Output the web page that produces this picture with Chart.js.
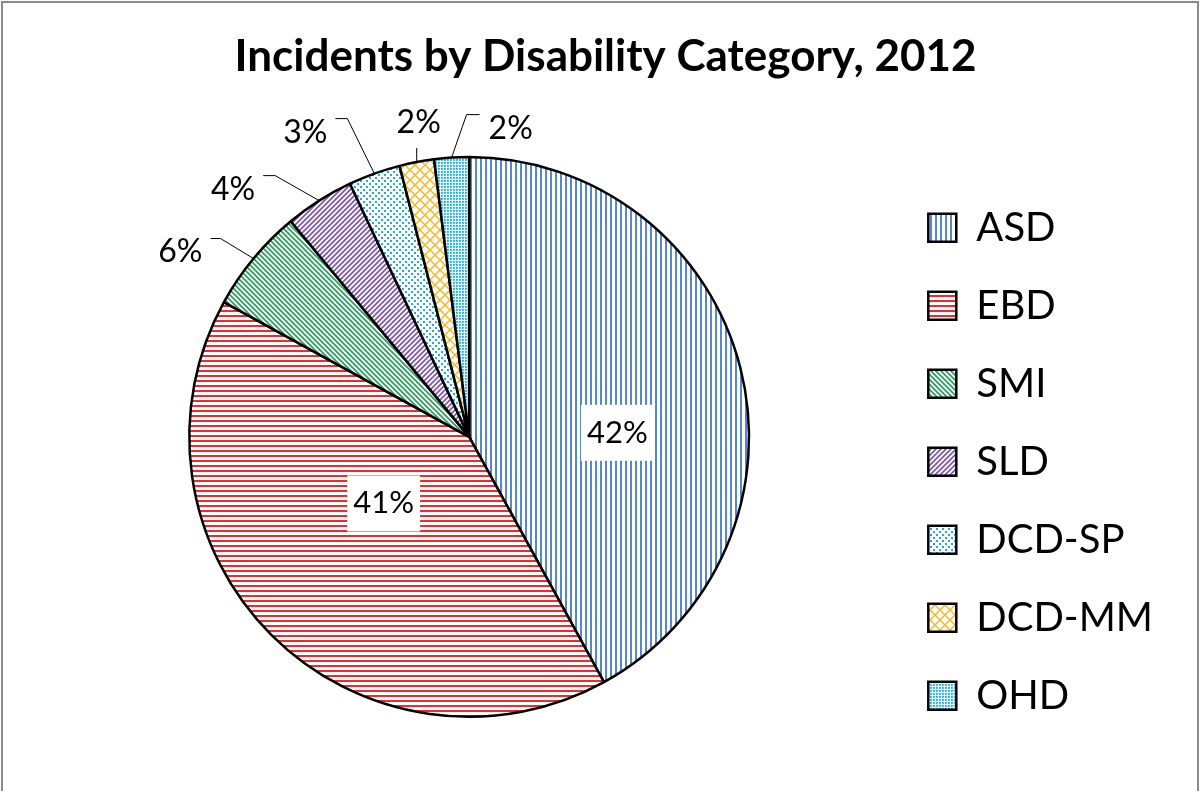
<!DOCTYPE html>
<html>
<head>
<meta charset="utf-8">
<script src="https://cdn.jsdelivr.net/npm/chart.js@4.4.0/dist/chart.umd.min.js"></script>
<style>
  html, body { margin: 0; padding: 0; background: #fff; }
  #wrap { position: absolute; left: 0; top: 0; width: 1200px; height: 791px; }
  #frame { position: absolute; left: 1px; top: 1px; width: 1194px; height: 800px;
           border: 2px solid #8c8c8c; pointer-events: none; }
</style>
</head>
<body>
<div id="wrap"><canvas id="pieChart"></canvas></div>
<div id="frame"></div>
<script>
const categories = ['ASD', 'EBD', 'SMI', 'SLD', 'DCD-SP', 'DCD-MM', 'OHD'];
const incidentShare = [42, 41, 6, 4, 3, 2, 2];
const shareLabels = ['42%', '41%', '6%', '4%', '3%', '2%', '2%'];

// small tiles used as fills, like the Excel pattern fills
function makePattern(kind, color) {
  const c = document.createElement('canvas');
  const s = { vlines: 5, hlines: 5, back: 5, fwd: 5, sparse: 6, grid: 10, dense: 3 }[kind];
  c.width = s; c.height = s;
  const g = c.getContext('2d');
  g.fillStyle = kind === 'dense' ? '#e2f5fd' : '#fff';
  g.fillRect(0, 0, s, s);
  g.strokeStyle = color;
  g.fillStyle = color;
  g.lineWidth = 1.8;
  if (kind === 'vlines') { g.fillRect(0, 0, 2, s); }
  if (kind === 'hlines') { g.fillRect(0, 0, s, 2); }
  if (kind === 'back') {
    g.beginPath();
    g.moveTo(-1, -1); g.lineTo(s + 1, s + 1);
    g.moveTo(-1, s - 1); g.lineTo(1, s + 1);
    g.moveTo(s - 1, -1); g.lineTo(s + 1, 1);
    g.stroke();
  }
  if (kind === 'fwd') {
    g.beginPath();
    g.moveTo(-1, s + 1); g.lineTo(s + 1, -1);
    g.moveTo(-1, 1); g.lineTo(1, -1);
    g.moveTo(s - 1, s + 1); g.lineTo(s + 1, s - 1);
    g.stroke();
  }
  if (kind === 'sparse') {
    g.fillRect(0, 0, 2, 2);
    g.fillRect(3, 3, 2, 2);
  }
  if (kind === 'grid') {
    g.lineWidth = 1.5;
    g.beginPath();
    g.moveTo(0, 0); g.lineTo(s, s);
    g.moveTo(s, 0); g.lineTo(0, s);
    g.stroke();
  }
  if (kind === 'dense') {
    g.fillRect(0, 0, 1.8, 1.8);
  }
  return g.createPattern(c, 'repeat');
}

const fills = [
  makePattern('vlines', '#5686cc'),
  makePattern('hlines', '#ee2a2a'),
  makePattern('back', '#30a060'),
  makePattern('fwd', '#8058b8'),
  makePattern('sparse', '#1eaae4'),
  makePattern('grid', '#f4b828'),
  makePattern('dense', '#1eaae4')
];

// label placement: inside ones by polar shift, outside ones with an elbow leader
const labelLayout = [
  { inside: true, turn: 0.217, r: 0.53 },
  { inside: true, turn: 0.131, r: 0.385 },
  { dx: -33, dy: -20, run: -10, align: 'right', tx: -8, ty: 13 },
  { dx: -44, dy: -25, run: -12, align: 'right', tx: -8, ty: 14 },
  { dx: -27, dy: -55, run: -12, align: 'right', tx: -8, ty: 14 },
  { dx: 0, dy: -14, run: 0, align: 'center', tx: 2, ty: -25 },
  { dx: 15, dy: -43, run: 13, align: 'left', tx: 9, ty: 14 }
];

const sliceLabels = {
  id: 'sliceLabels',
  afterDatasetsDraw(chart) {
    const ctx = chart.ctx;
    const arcs = chart.getDatasetMeta(0).data;
    ctx.save();
    ctx.textBaseline = 'middle';
    arcs.forEach((arc, i) => {
      const p = arc.getProps(['x', 'y', 'startAngle', 'endAngle', 'outerRadius'], true);
      const mid = (p.startAngle + p.endAngle) / 2;
      const L = labelLayout[i];
      const text = shareLabels[i];
      if (L.inside) {
        ctx.font = '31px Lato';
        const a = mid + L.turn;
        const lx = p.x + Math.cos(a) * p.outerRadius * L.r;
        const ly = p.y + Math.sin(a) * p.outerRadius * L.r;
        const w = ctx.measureText(text).width;
        ctx.fillStyle = '#fff';
        ctx.fillRect(lx - w / 2 - 6, ly - 27, w + 12, 56);
        ctx.fillStyle = '#000';
        ctx.textAlign = 'center';
        ctx.fillText(text, lx, ly + 1);
        return;
      }
      ctx.font = '32px Lato';
      const ax = p.x + Math.cos(mid) * p.outerRadius;
      const ay = p.y + Math.sin(mid) * p.outerRadius;
      const ex = ax + L.dx, ey = ay + L.dy;
      ctx.strokeStyle = '#000';
      ctx.lineWidth = 1;
      ctx.beginPath();
      ctx.moveTo(ax, ay);
      ctx.lineTo(ex, ey);
      ctx.lineTo(ex + L.run, ey);
      ctx.stroke();
      ctx.fillStyle = '#000';
      ctx.textAlign = L.align;
      ctx.fillText(text, ex + L.run + L.tx, ey + L.ty);
    });
    ctx.restore();
  }
};

new Chart(document.getElementById('pieChart'), {
  type: 'pie',
  data: {
    labels: categories,
    datasets: [{
      data: incidentShare,
      backgroundColor: fills,
      borderColor: '#000',
      borderWidth: 2.5
    }]
  },
  options: {
    responsive: true,
    maintainAspectRatio: false,
    animation: false,
    layout: { padding: { left: 48, right: 37, bottom: 0 } },
    plugins: {
      title: {
        display: true,
        text: 'Incidents by Disability Category, 2012',
        color: '#000',
        font: { family: 'Lato', size: 44, weight: 'bold' },
        padding: { top: 30, bottom: 73 }
      },
      // empty bottom box: keeps the pie clear of the bottom edge
      subtitle: {
        display: true,
        position: 'bottom',
        fullSize: false,
        text: ' ',
        font: { size: 10 },
        padding: { top: 30, bottom: 31 }
      },
      legend: {
        position: 'right',
        title: { display: true, text: ' ', padding: 59 },
        labels: {
          color: '#000',
          font: { family: 'Lato', size: 40 },
          boxWidth: 28,
          boxHeight: 28,
          padding: 38
        }
      },
      tooltip: { enabled: false }
    }
  },
  plugins: [sliceLabels]
});
</script>
</body>
</html>
